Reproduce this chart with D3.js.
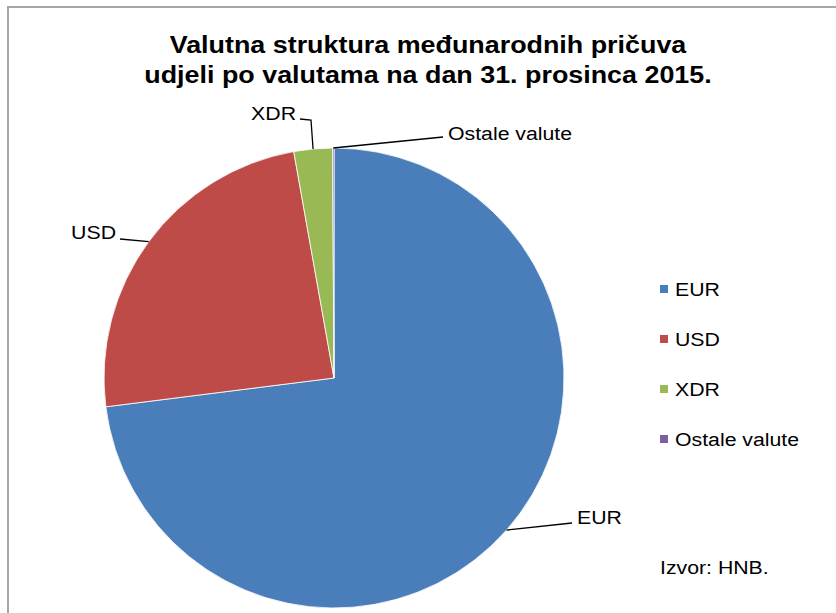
<!DOCTYPE html>
<html>
<head>
<meta charset="utf-8">
<script src="https://cdn.jsdelivr.net/npm/d3@7"></script>
<style>
  body { margin: 0; background: #fff; }
  text { font-family: "Liberation Sans", Arial, sans-serif; }
</style>
</head>
<body>
<div id="chart"></div>
<script>
var categories = ["EUR", "USD", "XDR", "Ostale valute"];
var shares = [73.0, 24.2, 2.7, 0.1];
var colors = ["#4a7ebb", "#be4b48", "#98b954", "#7d5fa0"];
var titleLines = ["Valutna struktura međunarodnih pričuva", "udjeli po valutama na dan 31. prosinca 2015."];
var source = "Izvor: HNB.";

var width = 836, height = 613;
var cx = 334, cy = 378, radius = 230;
var stretch = 1.12; // tekst u originalu je malo širi

var svg = d3.select("#chart").append("svg")
    .attr("width", width)
    .attr("height", height);

// okvir grafikona
svg.append("rect")
    .attr("x", 8).attr("y", 7)
    .attr("width", width + 10).attr("height", height + 10)
    .attr("fill", "#fff")
    .attr("stroke", "#a6a6a6")
    .attr("stroke-width", 2);

function addText(x, y, str, size, anchor, bold) {
    return svg.append("text")
        .attr("transform", "translate(" + x + "," + y + ") scale(" + stretch + ",1)")
        .attr("dy", "0.35em")
        .attr("text-anchor", anchor)
        .style("font-size", size + "px")
        .style("font-weight", bold ? "bold" : "normal")
        .style("fill", "#000")
        .text(str);
}

// naslov
titleLines.forEach(function(t, i) {
    addText(428, 45 + i * 30, t, 24, "middle", true);
});

var data = categories.map(function(c, i) { return { name: c, value: shares[i], color: colors[i] }; });

var pie = d3.pie().sort(null).value(function(d) { return d.value; });
var arc = d3.arc().innerRadius(0).outerRadius(radius);
var arcs = pie(data);

var g = svg.append("g").attr("transform", "translate(" + cx + "," + cy + ")");

g.selectAll(".slice")
    .data(arcs)
    .enter().append("path")
    .attr("class", "slice")
    .attr("d", arc)
    .attr("fill", function(d) { return d.data.color; })
    .attr("stroke", "#fff")
    .attr("stroke-width", 0.8);

// oznake uz kriske
var labelSpec = {
    "EUR": { pts: [[572, 523]], tx: 577, ty: 517, anchor: "start" },
    "USD": { pts: [[120, 239]], tx: 116, ty: 232, anchor: "end" },
    "XDR": { pts: [[311, 120], [300, 119]], tx: 296, ty: 113, anchor: "end" },
    "Ostale valute": { pts: [[443, 137]], tx: 448, ty: 133, anchor: "start" }
};

arcs.forEach(function(a) {
    var s = labelSpec[a.data.name];
    var mid = (a.startAngle + a.endAngle) / 2;
    var p0 = [cx + Math.sin(mid) * radius, cy - Math.cos(mid) * radius];
    svg.append("path")
        .attr("d", d3.line()([p0].concat(s.pts)))
        .attr("fill", "none")
        .attr("stroke", "#000")
        .attr("stroke-width", 1.3);
    addText(s.tx, s.ty, a.data.name, 19, s.anchor, false);
});

// legenda
data.forEach(function(d, i) {
    var y = 289 + i * 50;
    svg.append("rect")
        .attr("x", 660).attr("y", y - 4)
        .attr("width", 8).attr("height", 8)
        .attr("fill", d.color);
    addText(675, y, d.name, 19, "start", false);
});

addText(660, 567, source, 19, "start", false);
</script>
</body>
</html>
